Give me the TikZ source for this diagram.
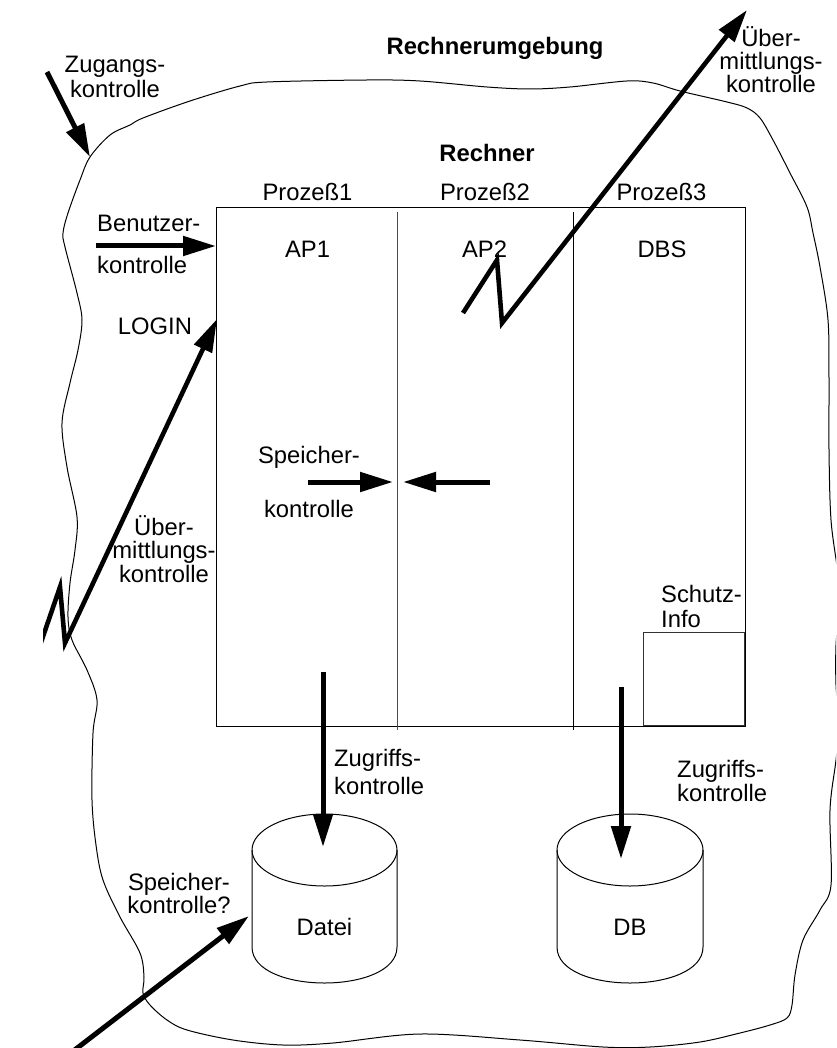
\documentclass[tikz,border=0pt]{standalone}
\usepackage{fontspec}
\setmainfont{Liberation Sans}
\usetikzlibrary{arrows.meta}
\begin{document}
\begin{tikzpicture}[x=1pt,y=-1pt,
  lbl/.style={inner sep=0pt, font=\fontsize{23.8}{24}\selectfont},
  thinline/.style={line width=1pt},
  bigarrow/.style={line width=5pt, -{Triangle[length=33pt,width=19pt]}},
  bolt/.style={line width=4.6pt, line join=miter, miter limit=10, -{Triangle[length=33pt,width=19pt]}}]
\useasboundingbox (0,0) rectangle (836,1048);
\clip (0,0) rectangle (836,1048);

% environment outline
\draw[thinline] plot[smooth cycle, tension=0.55] coordinates {
 (90,157) (110,135) (130,125) (143,118) (190,101) (240,86) (267,82) (367,80)
 (420,81) (487,87) (530,89) (570,87) (627,81) (653,83) (680,91) (727,102)
 (747,108) (760,118) (773,140) (790,173) (807,207) (813,233) (820,267)
 (828,320) (829,380) (829,450) (831,520) (838,575) (839,610) (836,645)
 (836,685) (839,725) (836,760) (830,810) (831,885) (820,910) (803,940)
 (795,975) (792,1005) (787,1018) (770,1025) (740,1033) (700,1042)
 (650,1047) (603,1047) (520,1040) (420,1034) (333,1043) (283,1045)
 (233,1040) (187,1030) (167,1020) (150,1005) (143,993) (144,977)
 (140,953) (120,917) (103,880) (96,845) (92,800) (93,733) (97,700)
 (87,670) (72,640) (68,617) (70,583) (75,550) (77,517) (67,467)
 (62,423) (70,383) (78,350) (82,320) (77,293) (65,247) (63,233)
 (68,213) (80,180)};

% computer box
\node[draw, thinline, minimum width=529pt, minimum height=518pt, inner sep=0pt]
  (rechnerbox) at (480.5,467) {};
\coordinate (d1top) at (397,212); \coordinate (d1bot) at (397,730);
\coordinate (d2top) at (573,212); \coordinate (d2bot) at (573,730);
\draw[thinline, black!70] (d1top) -- (d1bot);
\draw[thinline] (d2top) -- (d2bot);
\node[draw, thinline, black!80, minimum width=101pt, minimum height=93pt, inner sep=0pt]
  (schutzbox) at (693.5,678.5) {};

% cylinders
\draw[thinline] (252,850) -- (252,947) .. controls (252,995) and (397,995) .. (397,947) -- (397,850);
\draw[thinline] (324.5,850) ellipse [x radius=72.5pt, y radius=36pt];
\draw[thinline] (557,850) -- (557,947) .. controls (557,995) and (703,995) .. (703,947) -- (703,850);
\draw[thinline] (630,850) ellipse [x radius=73pt, y radius=36pt];

% labels (multi-line nodes: base = baseline of last line)
\node[lbl, anchor=base] (rumg) at (495,55) {\bfseries Rechnerumgebung};
\node[lbl, anchor=base] (rech) at (487,162) {\bfseries Rechner};
\node[lbl, anchor=base] (p1) at (307.5,201) {Prozeß1};
\node[lbl, anchor=base] (p2) at (485,201) {Prozeß2};
\node[lbl, anchor=base] (p3) at (661.5,201) {Prozeß3};
\node[lbl, anchor=base] (ap1) at (307.5,258) {AP1};
\node[lbl, anchor=base] (ap2) at (484.5,258) {AP2};
\node[lbl, anchor=base] (dbs) at (662,258) {DBS};
\node[lbl, anchor=base west, align=left, font=\fontsize{23.8}{41}\selectfont]
  (benutzer) at (97,273) {Benutzer-\\kontrolle};
\node[lbl, anchor=base] (login) at (155,334) {LOGIN};
\node[lbl, anchor=base, align=center, font=\fontsize{23.8}{25.5}\selectfont]
  (zugang) at (115,98) {Zugangs-\\kontrolle};
\node[lbl, anchor=base, align=center, font=\fontsize{23.8}{23}\selectfont]
  (uebtop) at (771,93) {Über-\\mittlungs-\\kontrolle};
\node[lbl, anchor=base, align=center, font=\fontsize{23.8}{54}\selectfont]
  (speichermid) at (309,517) {Speicher-\\kontrolle};
\node[lbl, anchor=base, align=center, font=\fontsize{23.8}{23.5}\selectfont]
  (ueblft) at (164,582) {Über-\\mittlungs-\\kontrolle};
\node[lbl, anchor=base west, align=left, font=\fontsize{23.8}{25}\selectfont]
  (schutz) at (661,627) {Schutz-\\Info};
\node[lbl, anchor=base west, align=left, font=\fontsize{23.8}{28}\selectfont]
  (zugriff1) at (334,794) {Zugriffs-\\kontrolle};
\node[lbl, anchor=base west, align=left, font=\fontsize{23.8}{24}\selectfont]
  (zugriff2) at (677,801) {Zugriffs-\\kontrolle};
\node[lbl, anchor=base, align=center, font=\fontsize{23.8}{23}\selectfont]
  (speicherq) at (179,913) {Speicher-\\kontrolle?};
\node[lbl, anchor=base] (datei) at (324.5,935) {Datei};
\node[lbl, anchor=base] (db) at (630,935) {DB};

% arrow end points
\coordinate (zugS) at (47,72);    \coordinate (zugT) at (90,157);
\coordinate (benS) at (96,246);   \coordinate (benT) at (216,246);
\coordinate (spRS) at (308,482);  \coordinate (spRT) at (393,482);
\coordinate (spLS) at (490,482);  \coordinate (spLT) at (403,482);
\coordinate (zg1S) at (323,672);  \coordinate (zg1T) at (323,847);
\coordinate (zg2S) at (621,687);  \coordinate (zg2T) at (621,859);
\coordinate (sqS) at (72,1052);   \coordinate (sqT) at (249,916);
\coordinate (btS) at (463,313);   \coordinate (btA) at (497,260);
\coordinate (btB) at (502,323);   \coordinate (btT) at (747,10);
\coordinate (blS) at (36,657);    \coordinate (blA) at (60,587);
\coordinate (blB) at (65,643);    \coordinate (blT) at (217,319);

% arrows
\draw[bigarrow] (zugS) -- (zugT);
\draw[bigarrow] (benS) -- (benT);
\draw[bigarrow] (spRS) -- (spRT);
\draw[bigarrow] (spLS) -- (spLT);
\draw[bigarrow] (zg1S) -- (zg1T);
\draw[bigarrow] (zg2S) -- (zg2T);
\draw[bigarrow] (sqS) -- (sqT);
\draw[bolt] (btS) -- (btA) -- (btB) -- (btT);
\begin{scope}
  \clip (43,0) rectangle (836,1048);
  \draw[bolt] (blS) -- (blA) -- (blB) -- (blT);
\end{scope}
\end{tikzpicture}
\end{document}
